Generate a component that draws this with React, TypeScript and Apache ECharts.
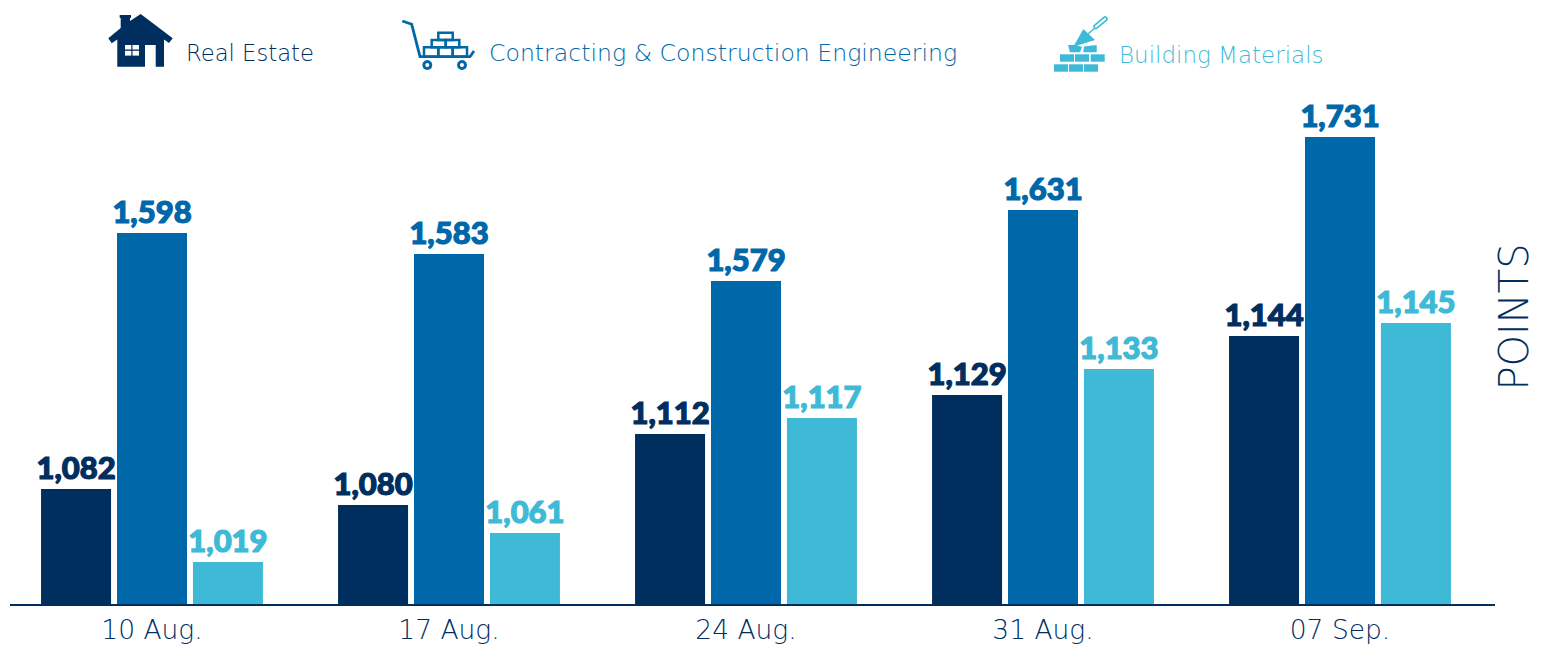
import React, { useEffect, useRef } from "react";
import * as echarts from "echarts";

const categories = ["10 Aug.", "17 Aug.", "24 Aug.", "31 Aug.", "07 Sep."];
const seriesNames = ["Real Estate", "Contracting & Construction Engineering", "Building Materials"];
// Printed values
const realEstateLabels = [1082, 1080, 1112, 1129, 1144];
const contractingLabels = [1598, 1583, 1579, 1631, 1731];
const buildingLabels = [1019, 1061, 1117, 1133, 1145];
// Bar heights as drawn in the picture (the source's bars do not start from zero)
const realEstateBars = [116, 100, 171, 210, 269];
const contractingBars = [372, 351, 324, 395, 468];
const buildingBars = [43, 72, 187, 236, 282];

const NAVY = "#002E5F";
const BLUE = "#0067A9";
const CYAN = "#3FBAD6";
const LIGHT = "'DejaVu Sans', Inter, sans-serif";
const BLACK = "Lato, Inter, sans-serif";

const fmt = (n: number) => n.toLocaleString("en-US");

function barSeries(name: string, bars: number[], labels: number[], color: string) {
  return {
    name,
    type: "bar",
    data: bars,
    barWidth: 70,
    barGap: "8.5%",
    itemStyle: { color },
    label: {
      show: true,
      position: "top",
      distance: 7,
      color,
      fontFamily: BLACK,
      fontWeight: 900,
      fontSize: 31,
      textBorderColor: color,
      textBorderWidth: 1.2,
      formatter: (p: any) => fmt(labels[p.dataIndex]),
    },
  };
}

function legendText(text: string, x: number, y: number, fill: string, size: number) {
  return {
    type: "text",
    x,
    y,
    style: { text, fill, font: `200 ${size}px ${LIGHT}`, textVerticalAlign: "middle" },
  };
}

function brick(x: number, y: number, w: number, h: number, fill: string) {
  return { type: "rect", shape: { x, y, width: w, height: h }, style: { fill } };
}

function outlined(x: number, y: number, w: number, h: number) {
  return {
    type: "rect",
    shape: { x, y, width: w, height: h },
    style: { fill: "none", stroke: BLUE, lineWidth: 2.5 },
  };
}

const houseIcon = [
  {
    type: "polygon",
    shape: {
      points: [
        [108.3, 38.3], [120.7, 28], [120.7, 18], [119.7, 18], [119.7, 15], [131, 15], [131, 18], [130, 18], [130, 21],
        [140.7, 14], [172.7, 38.3], [169, 43], [164, 39.5], [164, 66.7], [155.7, 66.7], [155.7, 45], [145, 45],
        [145, 66.7], [117.3, 66.7], [117.3, 39.5], [111.7, 43.3],
      ],
    },
    style: { fill: NAVY },
  },
  brick(125, 45, 6.3, 4.5, "#fff"),
  brick(132.5, 45, 6.5, 4.5, "#fff"),
  brick(125, 50.8, 6.3, 4.8, "#fff"),
  brick(132.5, 50.8, 6.5, 4.8, "#fff"),
];

const cartIcon = [
  {
    type: "polyline",
    shape: { points: [[402.3, 21], [411.7, 24.3], [420, 56.7], [470, 56.7], [474, 51]] },
    style: { fill: "none", stroke: BLUE, lineWidth: 2.8 },
  },
  { type: "circle", shape: { cx: 427.3, cy: 65, r: 3.5 }, style: { fill: "#fff", stroke: BLUE, lineWidth: 3 } },
  { type: "circle", shape: { cx: 462, cy: 65, r: 3.5 }, style: { fill: "#fff", stroke: BLUE, lineWidth: 3 } },
  outlined(424, 47.3, 14.3, 9.4),
  outlined(438.3, 47.3, 14.4, 9.4),
  outlined(452.7, 47.3, 14.3, 9.4),
  outlined(431.7, 40, 14, 7.3),
  outlined(445.7, 40, 13.6, 7.3),
  outlined(438.3, 32.7, 14.4, 7.3),
];

const trowelIcon = [
  brick(1054, 64.3, 14, 7.4, CYAN),
  brick(1069, 64.3, 14, 7.4, CYAN),
  brick(1084, 64.3, 14, 7.4, CYAN),
  brick(1060, 54.3, 14, 7.4, CYAN),
  brick(1075, 54.3, 14, 7.4, CYAN),
  brick(1090.7, 54.3, 14, 7.4, CYAN),
  { type: "polygon", shape: { points: [[1068, 45], [1076, 45], [1082, 47], [1080, 52.3], [1070, 52.3]] }, style: { fill: CYAN } },
  { type: "polygon", shape: { points: [[1084, 46.5], [1096.7, 45], [1096.7, 52.3], [1083.3, 52.3]] }, style: { fill: CYAN } },
  { type: "polygon", shape: { points: [[1083.3, 29], [1095, 40], [1073.3, 46.7]] }, style: { fill: CYAN } },
  { type: "line", shape: { x1: 1088, y1: 34, x2: 1096, y2: 27 }, style: { stroke: CYAN, lineWidth: 1.5 } },
  { type: "line", shape: { x1: 1096, y1: 26.5, x2: 1105, y2: 19 }, style: { stroke: CYAN, lineWidth: 5.5, lineCap: "round" } },
  { type: "line", shape: { x1: 1096, y1: 26.5, x2: 1105, y2: 19 }, style: { stroke: "#fff", lineWidth: 2.2, lineCap: "round" } },
];

export default function App() {
  const ref = useRef<HTMLDivElement>(null);
  useEffect(() => {
    document.body.style.margin = "0";
    const chart = echarts.init(ref.current!, undefined, { renderer: "svg" });
    chart.setOption({
      animation: false,
      backgroundColor: "#fff",
      grid: { left: 3.5, top: 0, width: 1485, height: 605 },
      xAxis: {
        type: "category",
        data: categories,
        axisTick: { show: false },
        axisLine: { show: false },
        axisLabel: { color: NAVY, fontFamily: LIGHT, fontWeight: 200, fontSize: 26.5, margin: 11 },
      },
      yAxis: { type: "value", min: 0, max: 605, show: false },
      series: [
        barSeries(seriesNames[0], realEstateBars, realEstateLabels, NAVY),
        barSeries(seriesNames[1], contractingBars, contractingLabels, BLUE),
        barSeries(seriesNames[2], buildingBars, buildingLabels, CYAN),
      ],
      graphic: [
        { type: "line", shape: { x1: 10, y1: 605, x2: 1495, y2: 605 }, style: { stroke: NAVY, lineWidth: 2 }, z: 10 },
        ...houseIcon,
        ...cartIcon,
        ...trowelIcon,
        legendText(seriesNames[0], 186, 53, NAVY, 22.7),
        legendText(seriesNames[1], 489, 53, BLUE, 23.6),
        legendText(seriesNames[2], 1119, 55, CYAN, 23),
        {
          type: "text",
          x: 1514,
          y: 317,
          rotation: Math.PI / 2,
          style: { text: "POINTS", fill: NAVY, font: `200 40px ${LIGHT}`, textAlign: "center", textVerticalAlign: "middle" },
        },
      ],
    });
    return () => chart.dispose();
  }, []);
  return <div ref={ref} style={{ width: 1548, height: 646, overflow: "hidden" }} />;
}
